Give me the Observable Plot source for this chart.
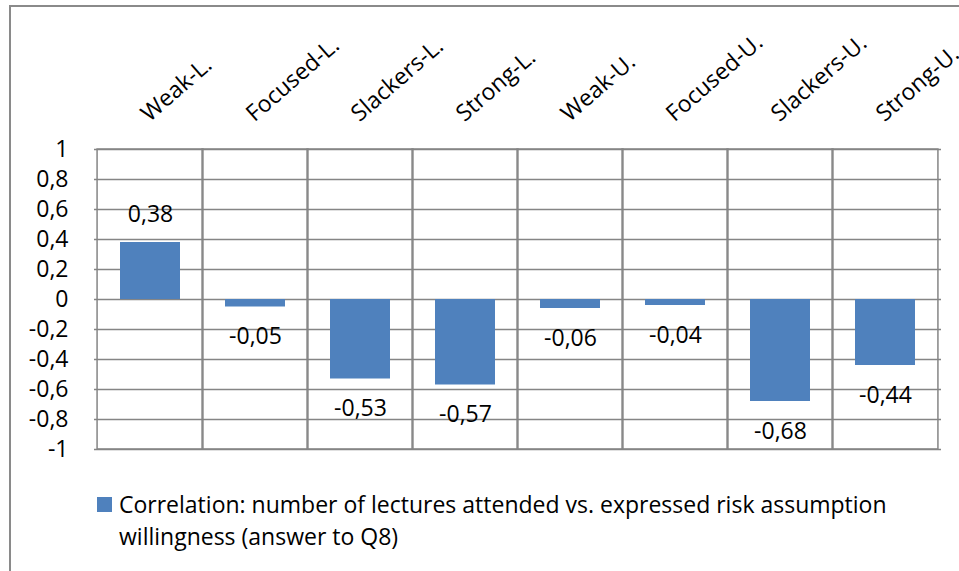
<!DOCTYPE html>
<html>
<head>
<meta charset="utf-8">
<script src="https://cdn.jsdelivr.net/npm/d3@7"></script>
<script src="https://cdn.jsdelivr.net/npm/@observablehq/plot@0.6"></script>
<style>
  html, body { margin: 0; padding: 0; background: #fff; }
  body { width: 959px; height: 571px; overflow: hidden; position: relative; font-family: "Open Sans", sans-serif; }
  #frame { position: absolute; left: 9px; top: 5px; width: 1200px; height: 800px; border: 2px solid #8a8a8a; box-sizing: border-box; }
  #chart { position: absolute; left: 0; top: 0; }
  #legend { position: absolute; left: 97px; top: 488px; display: flex; align-items: flex-start; color: #000; font-size: 23px; line-height: 32px; }
  #legend .swatch { width: 15px; height: 15px; background: #4f81bd; margin-top: 9px; margin-right: 7px; flex: none; }
  #legend .label { width: 800px; }
</style>
</head>
<body>
<div id="frame"></div>
<div id="chart"></div>
<div id="legend"><div class="swatch"></div><div class="label"></div></div>
<script>
// Correlation per student group
const categories = ["Weak-L.", "Focused-L.", "Slackers-L.", "Strong-L.", "Weak-U.", "Focused-U.", "Slackers-U.", "Strong-U."];
const correlation = [0.38, -0.05, -0.53, -0.57, -0.06, -0.04, -0.68, -0.44];
const seriesName = "Correlation: number of lectures attended vs. expressed risk assumption willingness (answer to Q8)";
const yTicks = [1, 0.8, 0.6, 0.4, 0.2, 0, -0.2, -0.4, -0.6, -0.8, -1];
const yTickLabels = ["1", "0,8", "0,6", "0,4", "0,2", "0", "-0,2", "-0,4", "-0,6", "-0,8", "-1"];

const rows = categories.map((group, i) => ({group, value: correlation[i]}));

const width = 959, height = 470;
const marginLeft = 94, marginRight = 18, marginTop = 149, marginBottom = 21;
const barColor = "#4f81bd";
const gridColor = "#858585";
const font = "'Open Sans', sans-serif";
const fs = 23;

// band layout: bars take ~57% of each column, columns fill the plot evenly
const paddingInner = 0.433;
const step = (width - marginLeft - marginRight) / categories.length;
const columnInset = -(step * paddingInner) / 2;

const fmt = v => v.toFixed(2).replace(".", ",");

const chart = Plot.plot({
  width, height, marginLeft, marginRight, marginTop, marginBottom,
  style: {fontFamily: font, fontSize: fs + "px", color: "#000", background: "transparent"},
  x: {domain: categories, paddingInner, paddingOuter: paddingInner / 2, axis: null},
  y: {domain: [-1, 1], axis: null},
  marks: [
    // horizontal gridlines
    Plot.gridY({ticks: yTicks, stroke: gridColor, strokeOpacity: 1, strokeWidth: 1.5}),
    // column cells (vertical gridlines)
    Plot.barY(categories, {x: d => d, y1: -1, y2: 1, fill: "none", stroke: gridColor, strokeWidth: 1.5,
      insetLeft: columnInset, insetRight: columnInset}),
    // y tick labels
    Plot.axisY({ticks: yTicks, tickFormat: d => yTickLabels[yTicks.indexOf(d)], tickSize: 0, tickPadding: 26,
      fontSize: fs, fill: "#000", label: null}),
    // bars
    Plot.barY(rows, {x: "group", y: "value", fill: barColor}),
    // value labels
    Plot.text(rows.filter(d => d.value >= 0), {x: "group", y: "value", text: d => fmt(d.value), dy: -28,
      fontSize: fs, fill: "#000"}),
    Plot.text(rows.filter(d => d.value < 0), {x: "group", y: "value", text: d => fmt(d.value), dy: 30,
      fontSize: fs, fill: "#000"}),
    // rotated category labels above the plot
    Plot.text(categories, {x: d => d, frameAnchor: "top", dx: -1, dy: -27, rotate: -41,
      textAnchor: "start", lineAnchor: "bottom", fontSize: fs, fill: "#000"})
  ]
});

document.getElementById("chart").append(chart);
document.querySelector("#legend .label").textContent = seriesName;
</script>
</body>
</html>
